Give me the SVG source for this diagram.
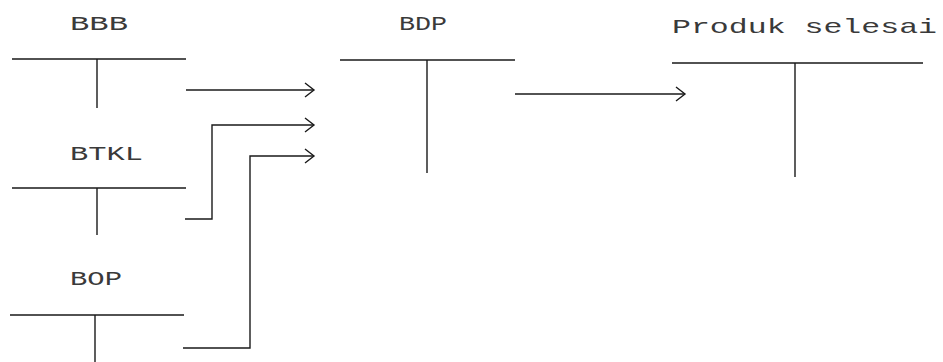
<svg xmlns="http://www.w3.org/2000/svg" width="943" height="362" viewBox="0 0 943 362">
  <style>
    .bg { fill: #ffffff; }
    .lbl { font-family: "Liberation Mono", "DejaVu Sans Mono", monospace; font-size: 21px; fill: #3a3a3a; }
    .acct { stroke: #1a1a1a; stroke-width: 1.4; fill: none; }
    .flow { stroke: #1a1a1a; stroke-width: 1.4; fill: none; marker-end: url(#chev); }
  </style>
  <defs>
    <marker id="chev" markerUnits="userSpaceOnUse" markerWidth="16" markerHeight="18" refX="12" refY="8" orient="auto">
      <path d="M3,1 L12,8 L3,15" fill="none" stroke="#1a1a1a" stroke-width="1.4"/>
    </marker>
  </defs>
  <rect class="bg" x="0" y="0" width="943" height="362"/>

  <!-- T accounts -->
  <g id="bbb">
    <text class="lbl" x="70" y="30" textLength="58" lengthAdjust="spacingAndGlyphs">BBB</text>
    <path class="acct" d="M12,59 H186 M97,59 V108"/>
  </g>
  <g id="btkl">
    <text class="lbl" x="70" y="160" textLength="73" lengthAdjust="spacingAndGlyphs">BTKL</text>
    <path class="acct" d="M12,188 H186 M97,188 V235"/>
  </g>
  <g id="bop">
    <text class="lbl" x="70" y="285" textLength="52" lengthAdjust="spacingAndGlyphs">BOP</text>
    <path class="acct" d="M10,315 H184 M95,315 V362"/>
  </g>
  <g id="bdp">
    <text class="lbl" x="399" y="30" textLength="48" lengthAdjust="spacingAndGlyphs">BDP</text>
    <path class="acct" d="M340,60 H515 M427,60 V173"/>
  </g>
  <g id="produk-selesai">
    <text class="lbl" x="672" y="33" textLength="265" lengthAdjust="spacingAndGlyphs">Produk selesai</text>
    <path class="acct" d="M672,63 H923 M795,63 V177"/>
  </g>

  <!-- transfers between accounts -->
  <g id="connectors">
    <path class="flow" d="M186,90 H314"/>
    <path class="flow" d="M185,219 H212 V125 H314"/>
    <path class="flow" d="M183,348 H250 V156 H314"/>
    <path class="flow" d="M515,94 H685"/>
  </g>
</svg>
